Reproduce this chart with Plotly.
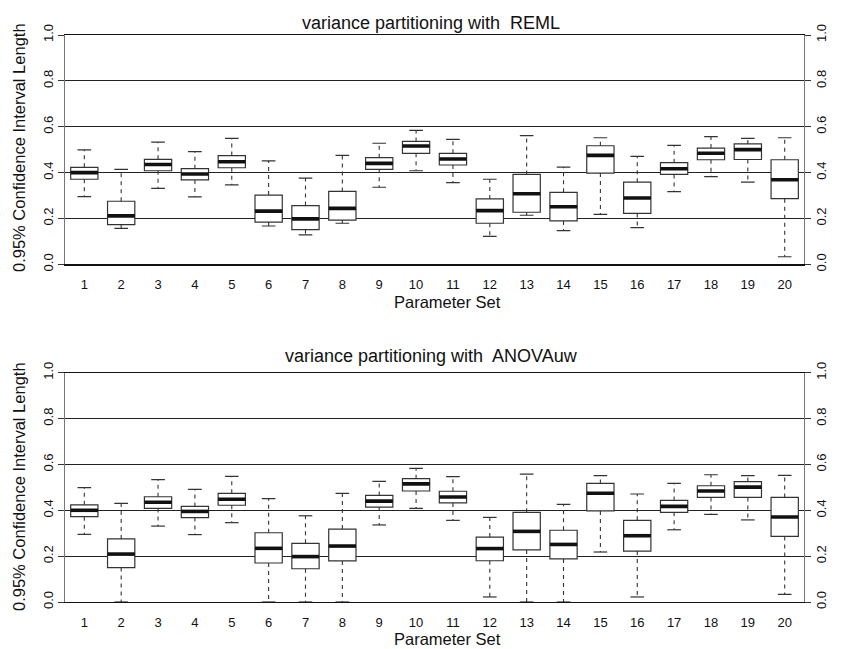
import plotly.graph_objects as go

# ---------------- data ----------------
param_sets = list(range(1, 21))
tick_labels = [str(i) for i in param_sets]
y_ticks = [0.0, 0.2, 0.4, 0.6, 0.8, 1.0]
y_tick_labels = ["0.0", "0.2", "0.4", "0.6", "0.8", "1.0"]

reml_upper = [0.499, 0.414, 0.533, 0.491, 0.549, 0.451, 0.376, 0.475, 0.528, 0.584,
              0.545, 0.371, 0.561, 0.424, 0.552, 0.471, 0.519, 0.557, 0.549, 0.552]
reml_q3 = [0.423, 0.275, 0.458, 0.417, 0.474, 0.302, 0.256, 0.318, 0.465, 0.536,
           0.484, 0.285, 0.392, 0.314, 0.517, 0.358, 0.443, 0.507, 0.525, 0.456]
reml_median = [0.400, 0.211, 0.435, 0.394, 0.447, 0.232, 0.198, 0.244, 0.440, 0.516,
               0.459, 0.234, 0.308, 0.251, 0.475, 0.289, 0.417, 0.484, 0.500, 0.369]
reml_q1 = [0.371, 0.173, 0.408, 0.368, 0.421, 0.184, 0.151, 0.193, 0.414, 0.484,
           0.433, 0.179, 0.227, 0.189, 0.398, 0.222, 0.392, 0.456, 0.457, 0.286]
reml_lower = [0.295, 0.157, 0.331, 0.294, 0.346, 0.167, 0.128, 0.179, 0.336, 0.408,
              0.356, 0.122, 0.214, 0.147, 0.218, 0.160, 0.317, 0.382, 0.358, 0.033]

anova_upper = [0.499, 0.430, 0.534, 0.491, 0.548, 0.451, 0.376, 0.474, 0.526, 0.583,
               0.547, 0.369, 0.558, 0.426, 0.551, 0.471, 0.517, 0.555, 0.551, 0.552]
anova_q3 = [0.424, 0.275, 0.459, 0.417, 0.474, 0.302, 0.256, 0.318, 0.465, 0.538,
            0.483, 0.283, 0.391, 0.313, 0.517, 0.356, 0.443, 0.507, 0.525, 0.456]
anova_median = [0.400, 0.209, 0.435, 0.395, 0.448, 0.234, 0.198, 0.244, 0.440, 0.515,
                0.458, 0.233, 0.308, 0.251, 0.474, 0.289, 0.417, 0.484, 0.501, 0.371]
anova_q1 = [0.372, 0.150, 0.408, 0.368, 0.422, 0.170, 0.145, 0.179, 0.414, 0.484,
            0.432, 0.180, 0.227, 0.188, 0.397, 0.222, 0.391, 0.456, 0.456, 0.286]
anova_lower = [0.295, 0.0, 0.331, 0.294, 0.346, 0.0, 0.0, 0.0, 0.336, 0.408,
               0.356, 0.022, 0.0, 0.0, 0.218, 0.022, 0.315, 0.382, 0.358, 0.033]

titles = ["variance partitioning with\u00a0 REML", "variance partitioning with\u00a0 ANOVAuw"]
x_title = "Parameter Set"
y_title = "0.95% Confidence Interval Length"

# ---------------- style ----------------
FONT = "Liberation Sans, Arial, Helvetica, sans-serif"
W, H = 841, 649
BOX_W = 0.74
CAP_HALF = BOX_W / 4
LINE = "#333333"

fig = go.Figure()


def add_panel(xa, ya, upper, q3, med, q1, lower):
    fig.add_trace(go.Box(
        x=param_sets, q1=q1, median=med, q3=q3, lowerfence=q1, upperfence=q3,
        width=BOX_W, whiskerwidth=0, fillcolor="white",
        line=dict(color=LINE, width=1.2), boxpoints=False,
        xaxis=xa, yaxis=ya, showlegend=False, hoverinfo="skip"))
    wx, wy, cx, cy, mx, my = [], [], [], [], [], []
    for i, p in enumerate(param_sets):
        wx += [p, p, None, p, p, None]
        wy += [q3[i], upper[i], None, q1[i], lower[i], None]
        cx += [p - CAP_HALF, p + CAP_HALF, None, p - CAP_HALF, p + CAP_HALF, None]
        cy += [upper[i], upper[i], None, lower[i], lower[i], None]
        mx += [p - BOX_W / 2, p + BOX_W / 2, None]
        my += [med[i], med[i], None]
    fig.add_trace(go.Scatter(x=wx, y=wy, mode="lines", xaxis=xa, yaxis=ya,
                             line=dict(color=LINE, width=1.1, dash="4px,4px"),
                             showlegend=False, hoverinfo="skip"))
    fig.add_trace(go.Scatter(x=cx, y=cy, mode="lines", xaxis=xa, yaxis=ya,
                             line=dict(color=LINE, width=1.2),
                             showlegend=False, hoverinfo="skip", cliponaxis=False))
    fig.add_trace(go.Scatter(x=mx, y=my, mode="lines", xaxis=xa, yaxis=ya,
                             line=dict(color="#111111", width=3.6),
                             showlegend=False, hoverinfo="skip"))


add_panel("x", "y", reml_upper, reml_q3, reml_median, reml_q1, reml_lower)
add_panel("x2", "y3", anova_upper, anova_q3, anova_median, anova_q1, anova_lower)

# pixel geometry
x_left_px, x_right_px = 65.0, 803.5
x_dom = [x_left_px / W, x_right_px / W]
x_range = [0.476, 20.51]
top_dom = [1 - 264.3 / H, 1 - 35.0 / H]
bot_dom = [1 - 602.0 / H, 1 - 372.7 / H]

xcommon = dict(domain=x_dom, range=x_range, tickvals=param_sets, ticktext=tick_labels,
               showgrid=False, zeroline=False, showline=True, mirror=True,
               linecolor="#111111", linewidth=1.2, ticks="",
               tickfont=dict(size=13, color="#111111"),
               ticklabelstandoff=8, fixedrange=True, automargin=False)
ycommon = dict(range=[0, 1], tickvals=y_ticks, ticktext=y_tick_labels,
               gridcolor="#222222", gridwidth=1, zeroline=False,
               showline=True, linecolor="#777777", linewidth=1.2,
               ticks="outside", ticklen=6, tickcolor="#333333", tickangle=-90,
               tickfont=dict(size=13, color="#111111"), fixedrange=True,
               automargin=False)

fig.update_layout(
    width=W, height=H, margin=dict(l=0, r=0, t=0, b=0, autoexpand=False),
    paper_bgcolor="white", plot_bgcolor="white",
    font=dict(family=FONT, color="#111111"),
    xaxis=dict(**xcommon, anchor="y"),
    yaxis=dict(**ycommon, showgrid=True, domain=top_dom, anchor="x", side="left"),
    yaxis2=dict(**ycommon, showgrid=False, overlaying="y", anchor="x", side="right"),
    xaxis2=dict(**xcommon, anchor="y3"),
    yaxis3=dict(**ycommon, showgrid=True, domain=bot_dom, anchor="x2", side="left"),
    yaxis4=dict(**ycommon, showgrid=False, overlaying="y3", anchor="x2", side="right"),
)

# dummy traces so the right-hand axes are drawn
fig.add_trace(go.Scatter(x=[None], y=[None], xaxis="x", yaxis="y2", showlegend=False, hoverinfo="skip"))
fig.add_trace(go.Scatter(x=[None], y=[None], xaxis="x2", yaxis="y4", showlegend=False, hoverinfo="skip"))

ann = []
ann.append(dict(text=titles[0], x=431 / W, y=1 - 22.7 / H, xref="paper", yref="paper",
                showarrow=False, xanchor="center", yanchor="middle", font=dict(size=18)))
ann.append(dict(text=titles[1], x=431 / W, y=1 - 356 / H, xref="paper", yref="paper",
                showarrow=False, xanchor="center", yanchor="middle", font=dict(size=18)))
ann.append(dict(text=x_title, x=447 / W, y=1 - 302 / H, xref="paper", yref="paper",
                showarrow=False, xanchor="center", yanchor="middle", font=dict(size=16.5)))
ann.append(dict(text=x_title, x=447 / W, y=1 - 639 / H, xref="paper", yref="paper",
                showarrow=False, xanchor="center", yanchor="middle", font=dict(size=16.5)))
ann.append(dict(text=y_title, x=19 / W, y=1 - 148 / H, xref="paper", yref="paper",
                showarrow=False, xanchor="center", yanchor="middle", textangle=-90,
                font=dict(size=16.5)))
ann.append(dict(text=y_title, x=19 / W, y=1 - 487 / H, xref="paper", yref="paper",
                showarrow=False, xanchor="center", yanchor="middle", textangle=-90,
                font=dict(size=16.5)))
fig.update_layout(annotations=ann)

fig.write_html("out.html", config={"displayModeBar": False, "staticPlot": True},
               post_script="document.body.style.margin='0';document.body.style.overflow='hidden';")
